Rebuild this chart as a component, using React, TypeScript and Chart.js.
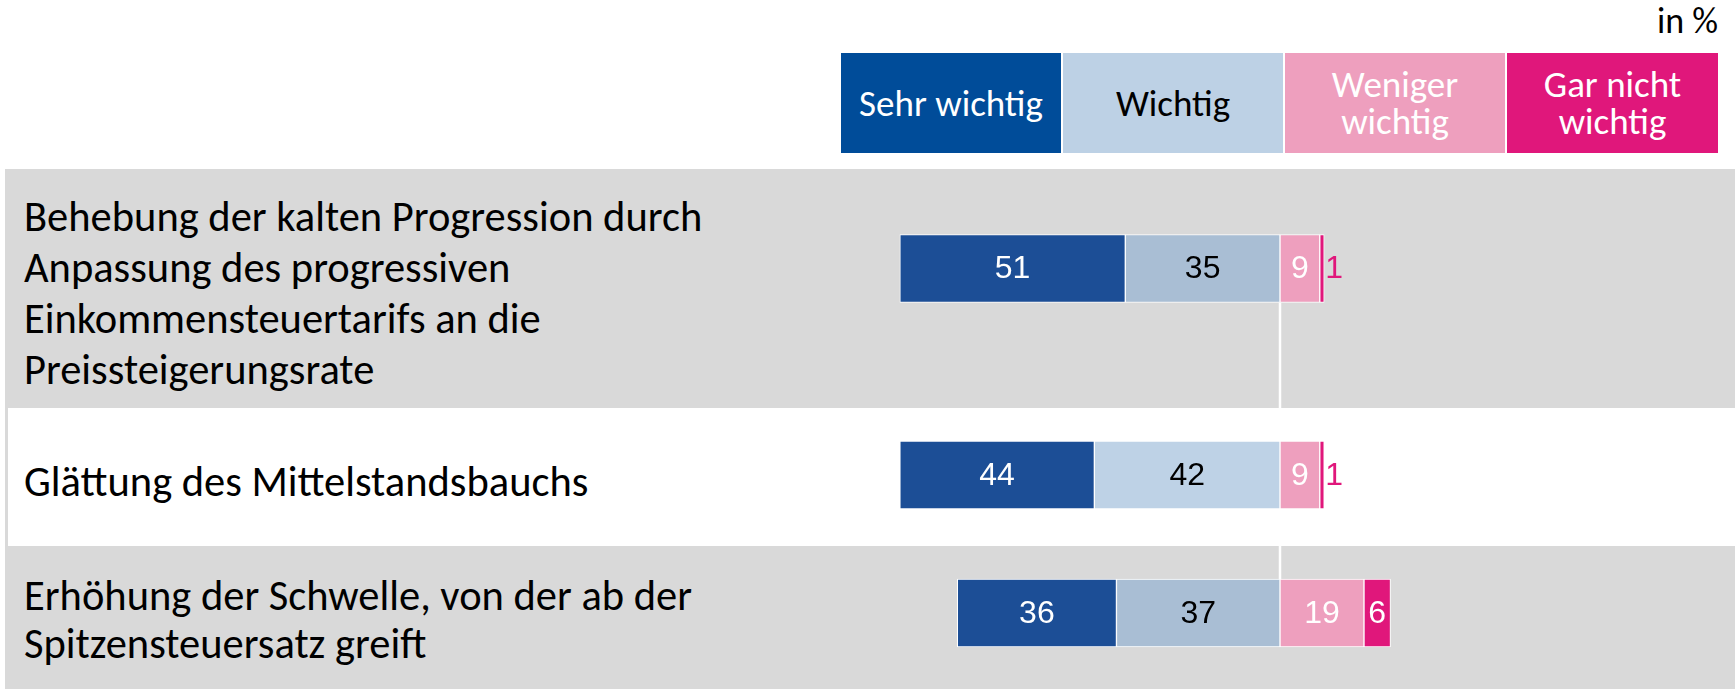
import React, { useEffect, useRef } from "react";
import { Chart, registerables } from "chart.js";
Chart.register(...registerables);

// ---------- data ----------
const categories: string[][] = [
  ["Behebung der kalten Progression durch", "Anpassung des progressiven", "Einkommensteuertarifs an die", "Preissteigerungsrate"],
  ["Glättung des Mittelstandsbauchs"],
  ["Erhöhung der Schwelle, von der ab der", "Spitzensteuersatz greift"],
];
const seriesNames = ["Sehr wichtig", "Wichtig", "Weniger wichtig", "Gar nicht wichtig"];
const legendLines: string[][] = [["Sehr wichtig"], ["Wichtig"], ["Weniger", "wichtig"], ["Gar nicht", "wichtig"]];
const sehrWichtig = [51, 44, 36];
const wichtig = [35, 42, 37];
const wenigerWichtig = [9, 9, 19];
const garNichtWichtig = [1, 1, 6];
const unitLabel = "in %";

// ---------- styles ----------
const FONT = "Carlito, Lato, 'Open Sans', sans-serif";
const NUM_FONT = "'Liberation Sans', Arial, sans-serif";
const DARK = "#1C4E96";
const LIGHT_ROWS = ["#A9BED4", "#BED2E6", "#A9BED4"];
const PINK = "#EE9FBE";
const MAGENTA = "#E0177B";
const LEGEND_COLORS = ["#004C99", "#BDD1E5", "#EE9FBE", "#E0177B"];
const LEGEND_TEXT = ["#ffffff", "#000000", "#ffffff", "#ffffff"];
const LEGEND_LEFT = [841, 1063, 1285, 1507];
const LEGEND_W = [220, 220, 220, 211];
const GRAY = "#D9D9D9";

const ROWS = [
  { top: 169, height: 239, padBottom: 40, line: "below", bg: GRAY, labelTop: 191, lh: 51 },
  { top: 408, height: 138, padBottom: 4, line: "both", bg: "#ffffff", labelTop: 456, lh: 51 },
  { top: 546, height: 143, padBottom: 9, line: "above", bg: GRAY, labelTop: 572, lh: 47.5 },
];
const CANVAS_LEFT = 838;
const CANVAS_W = 884;

const zeroLinePlugin = {
  id: "zeroLine",
  beforeDatasetsDraw(chart: any, _a: any, opts: any) {
    const ctx = chart.ctx;
    const x = chart.scales.x.getPixelForValue(0);
    const el: any = chart.getDatasetMeta(0).data[0];
    const top = el.y - el.height / 2;
    const bottom = el.y + el.height / 2;
    let y0 = 0, y1 = chart.height;
    if (opts.mode === "below") y0 = bottom;
    if (opts.mode === "above") y1 = top;
    ctx.save();
    ctx.strokeStyle = "#ffffff";
    ctx.lineWidth = 2.5;
    ctx.beginPath();
    ctx.moveTo(x, y0);
    ctx.lineTo(x, y1);
    ctx.stroke();
    ctx.restore();
  },
};

const valueLabelPlugin = {
  id: "valueLabels",
  afterDatasetsDraw(chart: any) {
    const ctx = chart.ctx;
    ctx.save();
    ctx.font = `32px ${NUM_FONT}`;
    ctx.textBaseline = "middle";
    chart.data.datasets.forEach((ds: any, di: number) => {
      const meta = chart.getDatasetMeta(di);
      meta.data.forEach((el: any, i: number) => {
        const v = Math.abs(ds.data[i]);
        const left = Math.min(el.x, el.base);
        const right = Math.max(el.x, el.base);
        if (v < 3) {
          ctx.fillStyle = MAGENTA;
          ctx.textAlign = "left";
          ctx.fillText(String(v), right + 1, el.y + 1);
        } else {
          ctx.fillStyle = ds.labelColor;
          ctx.textAlign = "center";
          ctx.fillText(String(v), (left + right) / 2, el.y + 1);
        }
      });
    });
    ctx.restore();
  },
};

function makeChart(canvas: HTMLCanvasElement, r: number) {
  const row = ROWS[r];
  return new Chart(canvas, {
    type: "bar",
    data: {
      labels: [categories[r].join(" ")],
      datasets: [
        { label: seriesNames[1], data: [-wichtig[r]], backgroundColor: LIGHT_ROWS[r], labelColor: "#000000" } as any,
        { label: seriesNames[0], data: [-sehrWichtig[r]], backgroundColor: DARK, labelColor: "#ffffff" } as any,
        { label: seriesNames[2], data: [wenigerWichtig[r]], backgroundColor: PINK, labelColor: "#ffffff" } as any,
        { label: seriesNames[3], data: [garNichtWichtig[r]], backgroundColor: MAGENTA, labelColor: "#ffffff" } as any,
      ],
    },
    options: {
      indexAxis: "y",
      responsive: false,
      maintainAspectRatio: false,
      animation: false,
      layout: { padding: { top: 0, bottom: row.padBottom, left: 0, right: 0 } },
      datasets: { bar: { barThickness: 68, borderWidth: 1, borderColor: "#ffffff", borderSkipped: false } },
      scales: {
        x: { stacked: true, min: -100, max: 100, display: false },
        y: { stacked: true, display: false },
      },
      plugins: {
        legend: { display: false },
        tooltip: { enabled: false },
        zeroLine: { mode: row.line },
      } as any,
    },
    plugins: [zeroLinePlugin, valueLabelPlugin],
  });
}

export default function App() {
  const refs = [useRef<HTMLCanvasElement>(null), useRef<HTMLCanvasElement>(null), useRef<HTMLCanvasElement>(null)];
  useEffect(() => {
    const charts = refs.map((ref, i) => makeChart(ref.current as HTMLCanvasElement, i));
    return () => charts.forEach((c) => c.destroy());
  }, []);

  return (
    <div style={{ position: "absolute", left: 0, top: 0, width: 1735, height: 689, background: "#fff", overflow: "hidden", fontFamily: FONT }}>
      <div style={{ position: "absolute", right: 17, top: 0, fontSize: 36, lineHeight: "43px", color: "#000" }}>{unitLabel}</div>
      {legendLines.map((lines, i) => (
        <div
          key={i}
          style={{
            position: "absolute",
            left: LEGEND_LEFT[i],
            top: 53,
            width: LEGEND_W[i],
            height: 100,
            background: LEGEND_COLORS[i],
            color: LEGEND_TEXT[i],
            display: "flex",
            flexDirection: "column",
            alignItems: "center",
            justifyContent: "center",
            fontSize: 37,
            lineHeight: "37px",
            textAlign: "center",
          }}
        >
          {lines.map((l, j) => (
            <div key={j}>{l}</div>
          ))}
        </div>
      ))}
      <div style={{ position: "absolute", left: 5, top: 169, width: 1730, height: 520, background: GRAY }} />
      {ROWS.map((row, i) => (
        <React.Fragment key={i}>
          {row.bg !== GRAY && (
            <div style={{ position: "absolute", left: 8, top: row.top, width: 1727, height: row.height, background: row.bg }} />
          )}
          <div style={{ position: "absolute", left: 24, top: row.labelTop, fontSize: 42.5, lineHeight: row.lh + "px", color: "#000", whiteSpace: "nowrap" }}>
            {categories[i].map((l, j) => (
              <div key={j}>{l}</div>
            ))}
          </div>
          <canvas
            ref={refs[i]}
            width={CANVAS_W}
            height={row.height}
            style={{ position: "absolute", left: CANVAS_LEFT, top: row.top, width: CANVAS_W, height: row.height }}
          />
        </React.Fragment>
      ))}
    </div>
  );
}
